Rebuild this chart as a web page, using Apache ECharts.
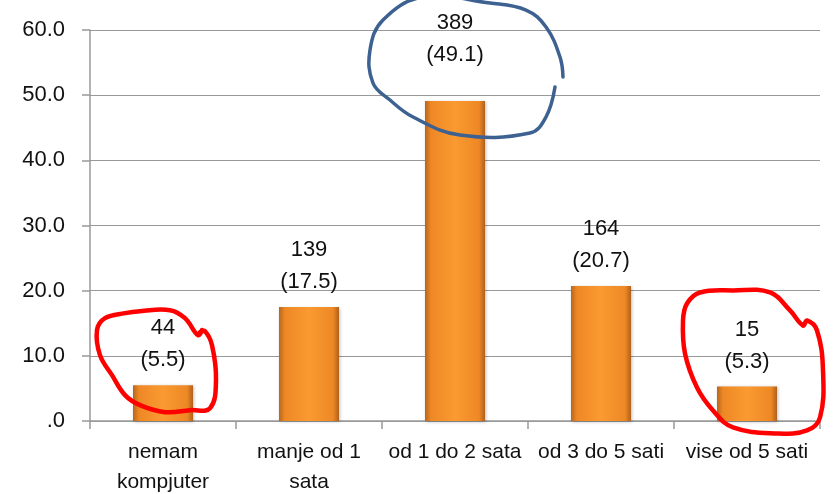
<!DOCTYPE html>
<html lang="en">
<head>
    <meta charset="UTF-8">
    <title>sati za kompjuterom</title>
    <script src="https://cdn.jsdelivr.net/npm/echarts@6/dist/echarts.min.js"></script>
</head>
<style>
    html, body {
        height: 100%;
        margin: 0;
        background: #fff;
    }
</style>
<body>
<div id="main" style="width: 834px;height:494px"></div>
<script type="text/javascript">
    var categories = ['nemam\nkompjuter', 'manje od 1\nsata', 'od 1 do 2 sata', 'od 3 do 5 sati', 'vise od 5 sati'];
    var counts = [44, 139, 389, 164, 15];
    var percents = [5.5, 17.5, 49.1, 20.7, 5.3];
    var yTicks = [0, 10, 20, 30, 40, 50, 60];

    var myChart = echarts.init(document.getElementById('main'));
    var fontName = 'Liberation Sans';

    var barColor = new echarts.graphic.LinearGradient(0, 0, 1, 0, [
        {offset: 0, color: '#b8661c'},
        {offset: 0.1, color: '#ee8826'},
        {offset: 0.5, color: '#fa9a30'},
        {offset: 0.9, color: '#ee8826'},
        {offset: 1, color: '#b0601a'}
    ]);

    var option = {
        animation: false,
        grid: {left: 90, right: 14, top: 30, bottom: 73, outerBoundsMode: 'none'},
        xAxis: {
            type: 'category',
            data: categories,
            axisLine: {lineStyle: {color: '#999', width: 1.5}},
            axisTick: {show: true, length: 8, lineStyle: {color: '#999', width: 1.5}},
            axisLabel: {
                color: '#111', fontSize: 21, fontFamily: fontName,
                lineHeight: 30, margin: 16, interval: 0
            }
        },
        yAxis: {
            type: 'value',
            min: yTicks[0],
            max: yTicks[yTicks.length - 1],
            interval: 10,
            axisLine: {show: true, lineStyle: {color: '#999', width: 1.5}},
            axisTick: {show: true, length: 8, lineStyle: {color: '#999', width: 1.5}},
            splitLine: {lineStyle: {color: '#999', width: 1.2}},
            axisLabel: {
                color: '#111', fontSize: 22, fontFamily: fontName, margin: 25,
                formatter: function (v) {
                    return v === 0 ? '.0' : v.toFixed(1);
                }
            }
        },
        series: [{
            type: 'bar',
            data: percents.map(function (p, i) {
                var item = {value: p};
                // the tallest label sits a bit higher in the original
                if (p === Math.max.apply(null, percents)) {
                    item.label = {distance: 30};
                }
                return item;
            }),
            barWidth: 60,
            itemStyle: {
                color: barColor,
                shadowColor: 'rgba(0,0,0,0.25)',
                shadowBlur: 3,
                shadowOffsetX: 1,
                shadowOffsetY: 1
            },
            label: {
                show: true,
                position: 'top',
                distance: 9,
                color: '#111',
                fontSize: 22,
                fontFamily: fontName,
                lineHeight: 32,
                formatter: function (p) {
                    return counts[p.dataIndex] + '\n(' + p.value.toFixed(1) + ')';
                }
            }
        }]
    };
    myChart.setOption(option);

    // hand drawn loops around some of the labels, offsets from the bar top
    var redLoop1 = [[37, -53], [42, -54], [49, -40], [53, -5], [47, 23], [27, 25], [2, 27], [-23, 20],
        [-38, 10], [-51, -10], [-63, -30], [-66, -55], [-58, -67], [-38, -72], [-23, -74], [7, -75],
        [22, -67], [35, -50], [39, -55]];
    var redLoop2 = [[-64, -66], [-60, -83], [-47, -94], [-14, -96], [23, -94], [43, -76], [56, -61],
        [60, -66], [70, -56], [76, -16], [73, 31], [60, 44], [30, 47], [-14, 41], [-34, 24],
        [-50, 1], [-62, -33], [-64, -66]];
    var blueLoop = [[108, -24], [105, -44], [91, -74], [71, -91], [35, -98], [-32, -104], [-72, -81],
        [-85, -51], [-82, -18], [-65, -1], [-42, 16], [5, 34], [75, 32], [91, 16], [100, -14]];

    function loopAt(idx, pts, color, width) {
        var base = myChart.convertToPixel({seriesIndex: 0}, [idx, percents[idx]]);
        return {
            type: 'polyline',
            silent: true,
            z: 100,
            shape: {
                points: pts.map(function (p) { return [base[0] + p[0], base[1] + p[1]]; }),
                smooth: 0.4
            },
            style: {fill: null, stroke: color, lineWidth: width, lineCap: 'round', lineJoin: 'round'}
        };
    }

    myChart.setOption({
        graphic: [
            loopAt(0, redLoop1, '#ff0000', 4.5),
            loopAt(4, redLoop2, '#ff0000', 4.5),
            loopAt(2, blueLoop, '#3d6191', 3.5)
        ]
    });
</script>
</body>
</html>
